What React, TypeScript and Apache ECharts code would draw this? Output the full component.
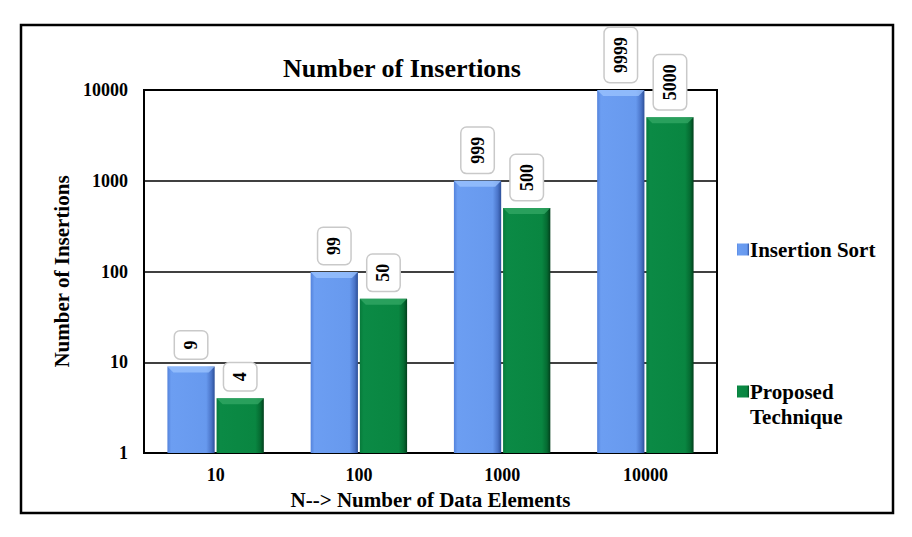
import React, { useEffect, useRef } from "react";
import * as echarts from "echarts";

const categories = ["10", "100", "1000", "10000"];
const insertionSort = [9, 99, 999, 9999];
const proposedTechnique = [4, 50, 500, 5000];

const FONT = "'Liberation Serif', 'Times New Roman', serif";

// bar width as a share of the category band, and gap as a share of bar width
const BAR_SHARE = 0.33;
const GAP_SHARE = 0.04;

const blueFill = new echarts.graphic.LinearGradient(0, 0, 1, 0, [
  { offset: 0, color: "#5483dc" },
  { offset: 0.08, color: "#6c9ef2" },
  { offset: 0.82, color: "#6799ee" },
  { offset: 0.93, color: "#4a74c8" },
  { offset: 1, color: "#2c4f98" },
]);

const greenFill = new echarts.graphic.LinearGradient(0, 0, 1, 0, [
  { offset: 0, color: "#077a3a" },
  { offset: 0.08, color: "#0b8a45" },
  { offset: 0.82, color: "#098641" },
  { offset: 0.93, color: "#056a31" },
  { offset: 1, color: "#023f1c" },
]);

const valueLabel = {
  show: true,
  position: "top" as const,
  rotate: 90,
  align: "left" as const,
  verticalAlign: "middle" as const,
  distance: 8,
  color: "#000",
  fontFamily: FONT,
  fontWeight: "bold" as const,
  fontSize: 18,
  backgroundColor: "#fff",
  borderColor: "#c9c9c9",
  borderWidth: 1.5,
  borderRadius: 5,
  padding: [7, 9],
};

const legendText = {
  fontFamily: FONT,
  fontWeight: "bold" as const,
  fontSize: 21,
  color: "#000",
};

// bevelled top edge drawn over each bar of one series
function bevelSeries(values: number[], side: -1 | 1, light: string) {
  return {
    type: "custom",
    silent: true,
    z: 3,
    data: values.map((v, i) => [i, v]),
    renderItem: (_params: any, api: any) => {
      const top = api.coord([api.value(0), api.value(1)]);
      const band = api.size([1, 0])[0];
      const w = band * BAR_SHARE;
      const gap = w * GAP_SHARE;
      const cx = top[0] + side * (w + gap) / 2;
      const x0 = cx - w / 2;
      const x1 = cx + w / 2;
      const y = top[1];
      const d = 6;
      return {
        type: "polygon",
        shape: {
          points: [
            [x0, y],
            [x1, y],
            [x1 - d, y + d],
            [x0 + d, y + d],
          ],
        },
        style: { fill: light, opacity: 0.75 },
      };
    },
  };
}

export default function App() {
  const ref = useRef<HTMLDivElement>(null);

  useEffect(() => {
    if (!ref.current) return;
    const chart = echarts.init(ref.current, null, { renderer: "svg" });
    chart.setOption({
      animation: false,
      backgroundColor: "#fff",
      title: {
        text: "Number of Insertions",
        left: 397,
        top: 50,
        textAlign: "center",
        textStyle: {
          fontFamily: FONT,
          fontWeight: "bold",
          fontSize: 26,
          color: "#000",
        },
      },
      legend: [
        {
          data: ["Insertion Sort"],
          left: 732,
          top: 234,
          icon: "rect",
          itemWidth: 12,
          itemHeight: 12,
          selectedMode: false,
          textStyle: { ...legendText, padding: [0, 0, 0, -4] },
        },
        {
          data: ["Proposed Technique"],
          left: 732,
          top: 349,
          icon: "rect",
          itemWidth: 12,
          itemHeight: 12,
          selectedMode: false,
          formatter: () => " \nProposed\nTechnique",
          textStyle: {
            ...legendText,
            lineHeight: 25,
            padding: [0, 0, 0, -4],
          },
        },
      ],
      grid: {
        left: 144,
        right: 195,
        top: 90,
        bottom: 84,
        show: true,
        borderColor: "#000",
        borderWidth: 2,
        backgroundColor: "transparent",
      },
      xAxis: {
        type: "category",
        data: categories,
        name: "N--> Number of Data Elements",
        nameLocation: "middle",
        nameGap: 36,
        nameTextStyle: {
          fontFamily: FONT,
          fontWeight: "bold",
          fontSize: 21,
          color: "#000",
        },
        axisLine: { lineStyle: { color: "#000", width: 2 } },
        axisTick: { show: false },
        axisLabel: {
          margin: 13,
          fontFamily: FONT,
          fontWeight: "bold",
          fontSize: 18,
          color: "#000",
        },
      },
      yAxis: {
        type: "log",
        logBase: 10,
        min: 1,
        max: 10000,
        name: "Number of Insertions",
        nameLocation: "middle",
        nameGap: 72,
        nameTextStyle: {
          fontFamily: FONT,
          fontWeight: "bold",
          fontSize: 21,
          color: "#000",
        },
        axisLine: { show: true, lineStyle: { color: "#000", width: 2 } },
        axisTick: { show: false },
        splitLine: { show: true, lineStyle: { color: "#000", width: 1.5 } },
        axisLabel: {
          margin: 16,
          fontFamily: FONT,
          fontWeight: "bold",
          fontSize: 18,
          color: "#000",
          formatter: (v: number) => String(Math.round(v)),
        },
      },
      series: [
        {
          name: "Insertion Sort",
          type: "bar",
          data: insertionSort,
          barWidth: `${BAR_SHARE * 100}%`,
          barGap: `${GAP_SHARE * 100}%`,
          itemStyle: { color: blueFill },
          label: valueLabel,
        },
        {
          name: "Proposed Technique",
          type: "bar",
          data: proposedTechnique,
          barWidth: `${BAR_SHARE * 100}%`,
          barGap: `${GAP_SHARE * 100}%`,
          itemStyle: { color: greenFill },
          label: valueLabel,
        },
        bevelSeries(insertionSort, -1, "#9cc4ff"),
        bevelSeries(proposedTechnique, 1, "#34a866"),
      ],
      graphic: [
        {
          type: "rect",
          silent: true,
          z: 1,
          shape: { x: 21, y: 25, width: 872, height: 488 },
          style: {
            fill: "none",
            stroke: "#000",
            lineWidth: 2.5,
          },
        },
      ],
    });
    return () => chart.dispose();
  }, []);

  return (
    <div
      ref={ref}
      style={{ position: "fixed", left: 0, top: 0, width: 912, height: 537 }}
    />
  );
}
